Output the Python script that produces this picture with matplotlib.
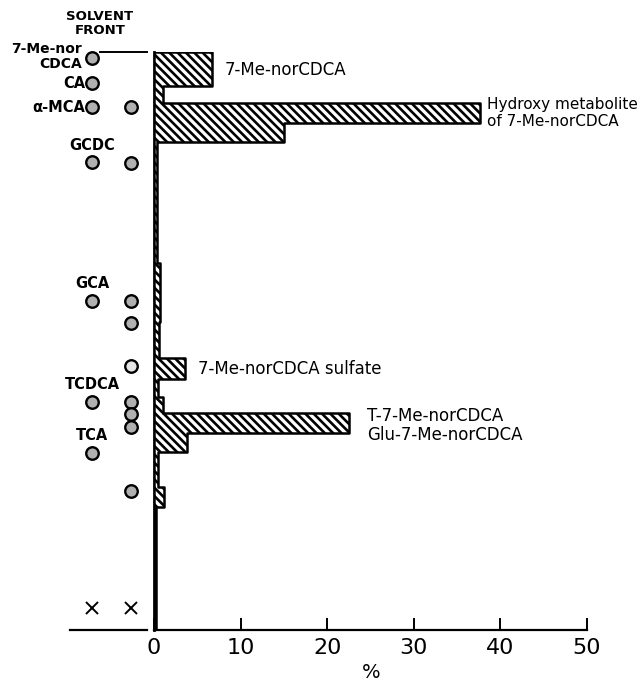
import numpy as np
import matplotlib
matplotlib.use('Agg')
import matplotlib.pyplot as plt

# --- DATA ---
# migration distance (0 = origin, 100 = solvent front), section edges bottom -> top
edges = [0, 21.3, 24.7, 30.8, 34.1, 37.5, 40.3, 43.4, 47.1, 53.3, 63.5,
         84.4, 87.7, 91.2, 94.1, 100.0]
# % of radioactivity in each section (bottom -> top)
percent = [0.2, 1.2, 0.5, 3.8, 22.5, 1.0, 0.5, 3.6, 0.6, 0.7, 0.4,
           15.0, 37.6, 1.0, 6.7]

# reference spots, lane 1 (standards) and lane 2
lane_x = [-7.2, -2.65]
lane1_y = [99.0, 94.6, 90.5, 81.0, 56.9, 39.4, 30.6]
lane2_y = [90.5, 80.8, 56.9, 53.1, 39.4, 37.4, 35.1, 24.0]
lane2_faint_y = [45.7]
origin_y = 3.8

xticks = [0, 10, 20, 30, 40, 50]

# --- FIGURE ---
W, H = 644, 685
fig = plt.figure(figsize=(W / 100, H / 100), dpi=100)
plt.rcParams['hatch.linewidth'] = 1.9

ax = fig.add_axes([154 / W, 1 - 630 / H, (587 - 154) / W, (630 - 52) / H])
ax.set_xlim(0, 50)
ax.set_ylim(0, 100)

# histogram as one stepped outline
xs = percent + [percent[-1]]
ax.fill_betweenx(edges, 0, xs, step='post', facecolor='white',
                 edgecolor='black', hatch='\\\\\\\\', linewidth=1.8, zorder=3)

# spots
kw = dict(marker='o', markersize=9, markeredgecolor='black', markeredgewidth=1.7,
          linestyle='none', clip_on=False, zorder=4)
ax.plot([lane_x[0]] * len(lane1_y), lane1_y, markerfacecolor='#b0b0b0', **kw)
ax.plot([lane_x[1]] * len(lane2_y), lane2_y, markerfacecolor='#b0b0b0', **kw)
ax.plot([lane_x[1]] * len(lane2_faint_y), lane2_faint_y, markerfacecolor='#e6e6e6', **kw)
ax.plot(lane_x, [origin_y, origin_y], marker='x', markersize=8, color='black',
        markeredgewidth=1.4, linestyle='none', clip_on=False)

# origin line and solvent front line on the lane side
ax.plot([-9.7, -0.8], [0, 0], color='black', lw=1.6, clip_on=False)
ax.plot([-6.2, -0.8], [100, 100], color='black', lw=1.4, clip_on=False)

# axes styling
for s in ['top', 'right']:
    ax.spines[s].set_visible(False)
ax.spines['left'].set_linewidth(2.0)
ax.spines['bottom'].set_linewidth(1.6)
ax.set_yticks([])
ax.set_xticks(xticks)
ax.set_xticklabels([str(t) for t in xticks])
ax.tick_params(axis='x', direction='in', length=8.6, width=1.4, labelsize=16, pad=6)


def ftext(px, py, s, **kw):
    fig.text(px / W, 1 - py / H, s, va='center', **kw)


# left-hand labels
left = dict(fontsize=10.5, fontweight='bold')
ftext(100, 17, 'SOLVENT', ha='center', fontsize=9.5, fontweight='bold')
ftext(100, 31, 'FRONT', ha='center', fontsize=9.5, fontweight='bold')
ftext(82, 49, '7-Me-nor', ha='right', fontsize=10, fontweight='bold')
ftext(82, 64, 'CDCA', ha='right', fontsize=10, fontweight='bold')
ftext(85, 83, 'CA', ha='right', **left)
ftext(85, 107, 'α-MCA', ha='right', **left)
ftext(92, 146, 'GCDC', ha='center', **left)
ftext(92, 284, 'GCA', ha='center', **left)
ftext(92, 384, 'TCDCA', ha='center', **left)
ftext(92, 436, 'TCA', ha='center', **left)

# peak labels
right = dict(fontsize=12, ha='left')
ftext(225, 70, '7-Me-norCDCA', **right)
ftext(487, 104, 'Hydroxy metabolite', fontsize=11, ha='left')
ftext(487, 121, 'of 7-Me-norCDCA', fontsize=11, ha='left')
ftext(198, 369, '7-Me-norCDCA sulfate', **right)
ftext(367, 416, 'T-7-Me-norCDCA', **right)
ftext(367, 435, 'Glu-7-Me-norCDCA', **right)

ftext(371, 672, '%', ha='center', fontsize=14)

fig.savefig('out.png', dpi=100)
